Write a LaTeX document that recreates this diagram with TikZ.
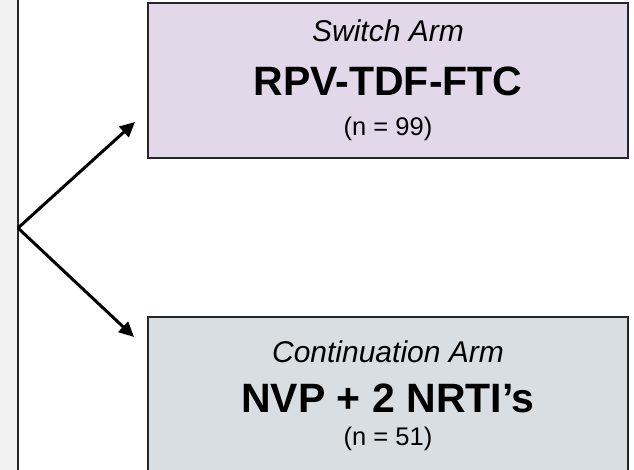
\documentclass[tikz,border=0pt]{standalone}
\usepackage{fontspec}
\setmainfont{Liberation Sans}
\usetikzlibrary{arrows.meta}
\definecolor{switchfill}{HTML}{E3D8E9}
\definecolor{contfill}{HTML}{D9DEE2}
\definecolor{panelfill}{HTML}{F2F2F2}
\tikzset{
  armbox/.style={draw=black!85, line width=1.3pt, minimum width=480pt, inner sep=0pt},
  armname/.style={font=\itshape\fontsize{30}{32}\selectfont, inner sep=0pt},
  regimen/.style={font=\bfseries\fontsize{41}{44}\selectfont, inner sep=0pt},
  count/.style={font=\fontsize{25.5}{27}\selectfont, inner sep=0pt},
  splitarrow/.style={line width=3pt, -{Triangle[length=15pt,width=14pt]}}
}
\begin{document}
\begin{tikzpicture}[x=1pt, y=-1pt]
\useasboundingbox (0,0) rectangle (634,470);
\node[draw=black!85, fill=panelfill, line width=1.2pt, minimum width=60pt, minimum height=520pt, inner sep=0pt] (panel) at (-12,235){};
% switch arm
\node[armbox, fill=switchfill, minimum height=155pt] (switch) at (388,80.5){};
\node[armname] (switchname) at (388,31){Switch Arm};
\node[regimen] (switchdrug) at (388,81){RPV-TDF-FTC};
\node[count] (switchn) at (388,129){(n = 99)};
% continuation arm
\node[armbox, fill=contfill, minimum height=170pt] (cont) at (388,402){};
\node[armname] (contname) at (388,352){Continuation Arm};
\node[regimen] (contdrug) at (388,398){NVP + 2 NRTI’s};
\node[count] (contn) at (388,439){(n = 51)};
% randomisation fork
\coordinate (fork) at (18,228);
\coordinate (toswitch) at (135,122);
\coordinate (tocont) at (134,337);
\draw[splitarrow] (fork) -- (toswitch);
\draw[splitarrow] (fork) -- (tocont);
\end{tikzpicture}
\end{document}
